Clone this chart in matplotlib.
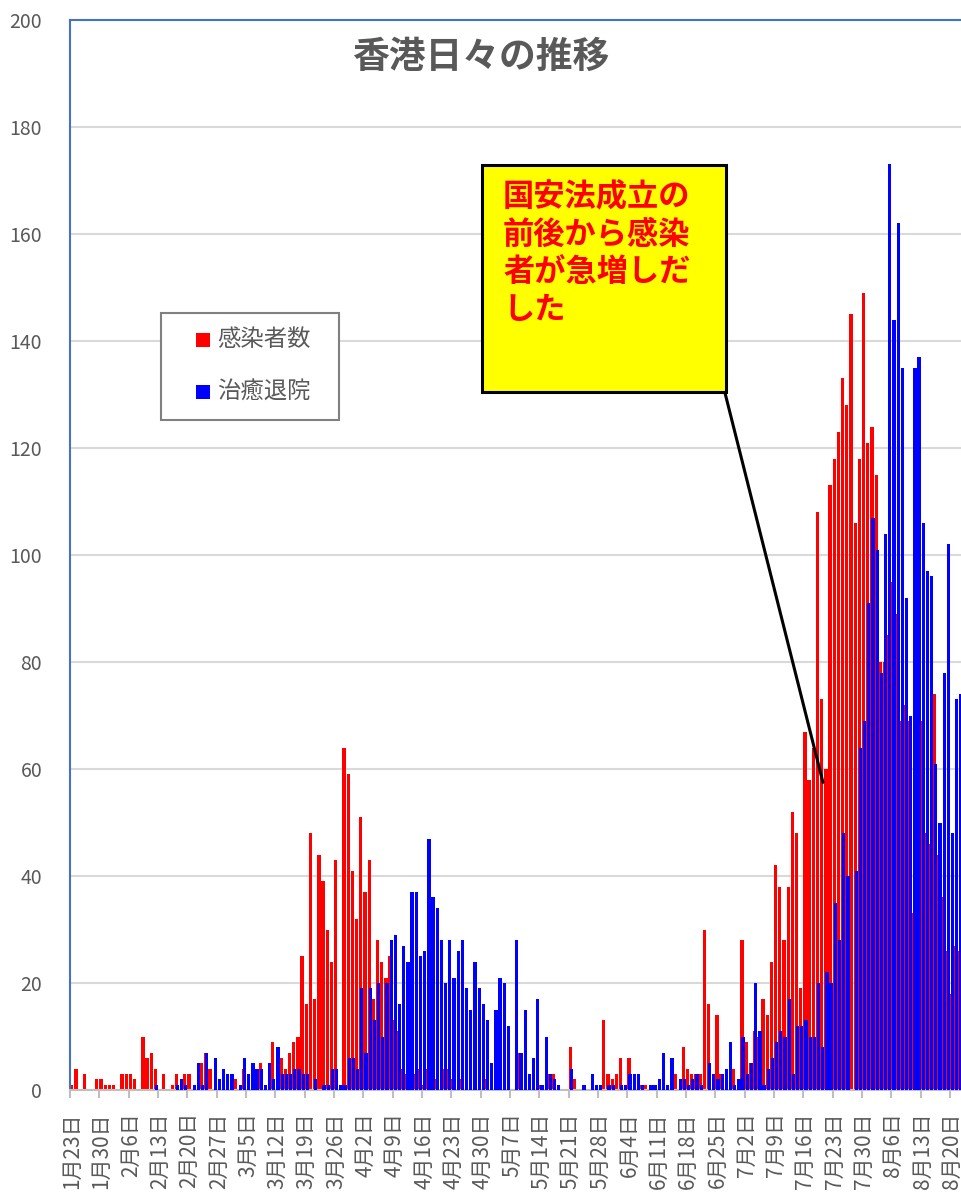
import matplotlib
matplotlib.use('Agg')
import matplotlib.pyplot as plt
from matplotlib.patches import Rectangle
import numpy as np
import pandas as pd

plt.rcParams['font.family'] = ['Noto Sans CJK JP', 'DejaVu Sans']

# ---------------- data ----------------
dates = pd.date_range('2020-01-23', '2020-08-22', freq='D')
categories = [f'{d.month}月{d.day}日' for d in dates]

infected = [
    1, 4, 0, 3, 0, 0, 2, 2, 1, 1,
    1, 0, 3, 3, 3, 2, 0, 10, 6, 7,
    4, 0, 3, 0, 1, 3, 0, 3, 3, 0,
    0, 5, 7, 4, 0, 0, 0, 0, 0, 2,
    0, 4, 0, 0, 0, 5, 0, 0, 9, 0,
    6, 4, 7, 9, 10, 25, 16, 48, 17, 44,
    39, 30, 24, 43, 65, 64, 59, 41, 32, 51,
    37, 43, 17, 28, 24, 21, 25, 13, 11, 4,
    3, 5, 3, 4, 1, 4, 2, 2, 0, 4,
    4, 2, 0, 2, 0, 0, 0, 0, 0, 2,
    0, 0, 1, 0, 0, 0, 0, 7, 0, 0,
    0, 0, 1, 0, 3, 3, 0, 0, 0, 8,
    2, 0, 0, 0, 0, 0, 0, 13, 3, 2,
    3, 6, 0, 6, 0, 0, 1, 1, 0, 0,
    0, 0, 0, 0, 3, 0, 8, 4, 3, 3,
    3, 30, 16, 0, 14, 3, 0, 0, 4, 0,
    28, 9, 5, 11, 10, 17, 14, 24, 42, 38,
    28, 38, 52, 48, 19, 67, 58, 64, 108, 73,
    60, 113, 118, 123, 133, 128, 145, 106, 118, 149,
    121, 124, 115, 80, 80, 85, 95, 89, 69, 72,
    69, 33, 62, 69, 48, 46, 74, 44, 36, 26,
    18, 27, 26,
]

recovered = [
    0, 0, 0, 0, 0, 0, 0, 0, 0, 0,
    0, 0, 0, 0, 0, 0, 0, 0, 0, 0,
    1, 0, 0, 0, 0, 1, 2, 1, 0, 1,
    5, 1, 7, -0.5, 6, 2, 4, 3, 3, 0,
    1, 6, 3, 5, 4, 4, 1, 5, 2, 8,
    3, 3, 3, 4, 4, 3, 3, 0, 2, 0,
    1, 1, 4, 4, 1, 1, 6, 6, 4, 19,
    7, 19, 13, 20, 10, 20, 28, 29, 16, 27,
    24, 37, 37, 25, 26, 47, 36, 34, 28, 20,
    28, 21, 26, 28, 19, 15, 24, 19, 16, 13,
    5, 15, 21, 20, 12, 0, 28, 7, 15, 3,
    6, 17, 1, 10, 3, 2, 1, 0, 0, 4,
    0, 0, 1, 0, 3, 1, 1, 0, 1, 1,
    0, 1, 1, 3, 3, 3, 1, 0, 1, 1,
    2, 7, 1, 6, 0, 2, 2, 1, 2, 3,
    1, 0, 5, 3, 2, 3, 4, 9, 1, 2,
    10, 3, 5, 20, 11, 1, 4, 6, 9, 11,
    10, 17, 3, 12, 12, 13, 10, 10, 20, 8,
    22, 20, 35, 28, 48, 40, -0.5, 41, 64, 69,
    91, 107, 101, 78, 104, 173, 144, 162, 135, 92,
    70, 135, 137, 106, 97, 96, 61, 50, 78, 102,
    48, 73, 74,
]

series_names = ['感染者数', '治癒退院']
series_colors = ['#FF0000', '#0000FF']
title_text = '香港日々の推移'
note_text = '国安法成立の\n前後から感染\n者が急増しだ\nした'
note_target = ('7月21日', 57.5)   # where the callout line points
thin_bar_dates = ['3月27日']        # bar rendered as a hairline in the original
yticks = list(range(0, 201, 20))

# ---------------- figure ----------------
W, H = 961, 1193
fig = plt.figure(figsize=(W / 100, H / 100), dpi=100)


def fx(px):
    return px / W


def fy(py):
    return 1 - py / H


ax = fig.add_axes([fx(70), fy(1090), (W - 70) / W, (1090 - 20) / H])

x = np.arange(len(categories))
red_w = [0.12 if c in thin_bar_dates else 0.78 for c in categories]
ax.bar(x - 0.1, infected, width=red_w, color=series_colors[0], zorder=2, linewidth=0)
ax.bar(x + 0.15, recovered, width=0.78, color=series_colors[1], zorder=3, linewidth=0)

ax.set_ylim(0, 200)
ax.set_xlim(-0.5, -0.5 + (W - 70) / 4.19)

ax.set_yticks(yticks)
ax.set_yticklabels([str(v) for v in yticks])
ax.tick_params(axis='y', length=0, pad=20, labelsize=14, labelcolor='#595959')
ax.yaxis.grid(True, color='#D9D9D9', linewidth=1.5, zorder=0)
ax.set_axisbelow(True)

major = np.arange(-0.5, len(categories), 7)
ax.set_xticks(major)
ax.set_xticklabels([])
ax.tick_params(axis='x', which='major', length=6, width=1.5, color='#BFBFBF')
minor = np.arange(0, len(categories), 7)
ax.set_xticks(minor, [categories[i] for i in minor], minor=True)
ax.tick_params(axis='x', which='minor', length=0, pad=16, labelsize=15,
               labelcolor='#595959', labelrotation=90)

ax.spines['right'].set_visible(False)
ax.spines['left'].set_color('#4472C4')
ax.spines['left'].set_linewidth(1.5)
ax.spines['top'].set_color('#4472C4')
ax.spines['top'].set_linewidth(1.5)
ax.spines['bottom'].set_color('#BFBFBF')
ax.spines['bottom'].set_linewidth(1.5)

# title
fig.text(fx(481), fy(57), title_text, ha='center', va='center', fontsize=26.5,
         fontweight='bold', color='#595959')

# legend (manual box)
fig.add_artist(Rectangle((fx(161), fy(420)), fx(339) - fx(161), fy(313) - fy(420),
                         transform=fig.transFigure, facecolor='white',
                         edgecolor='#808080', linewidth=1.5, zorder=5))
for k, (name, col) in enumerate(zip(series_names, series_colors)):
    cy = 340 + 52 * k
    fig.add_artist(Rectangle((fx(196), fy(cy + 7)), fx(14), 14 / H,
                             transform=fig.transFigure, facecolor=col,
                             edgecolor='none', zorder=6))
    fig.text(fx(217), fy(cy), name, ha='left', va='center', fontsize=16.8,
             color='#595959', zorder=7)

# callout box
fig.add_artist(Rectangle((fx(482), fy(392)), fx(726) - fx(482), fy(165) - fy(392),
                         transform=fig.transFigure, facecolor='#FFFF00',
                         edgecolor='black', linewidth=2.2, zorder=5))
fig.text(fx(503), fy(181), note_text, ha='left', va='top', fontsize=22.5,
         fontweight='bold', color='#FF0000', linespacing=1.22, zorder=7)
ax.annotate('', xy=(categories.index(note_target[0]) - 0.8, note_target[1]), xycoords='data',
            xytext=(fx(722), fy(381)), textcoords='figure fraction',
            arrowprops=dict(arrowstyle='-', color='black', lw=2.2,
                            shrinkA=0, shrinkB=0), zorder=8, annotation_clip=False)

fig.savefig('out.png', dpi=100)
